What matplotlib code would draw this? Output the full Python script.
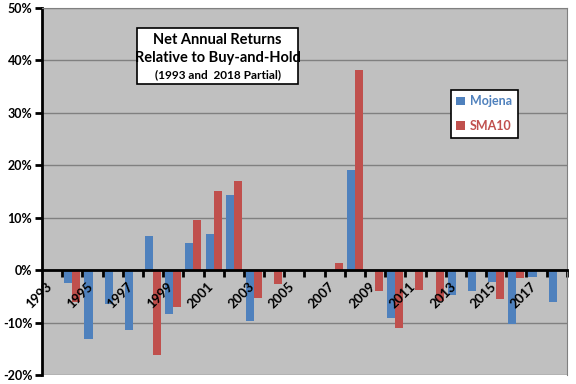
import numpy as np
import matplotlib
matplotlib.use("Agg")
import matplotlib.pyplot as plt
from matplotlib.patches import Rectangle

plt.rcParams['font.family'] = ['Lato', 'DejaVu Sans']

years = list(range(1993, 2019))
# net annual returns relative to buy-and-hold, %
mojena = [0.0, -2.4, -13.2, -6.4, -11.4, 6.5, -8.4, 5.2, 6.9, 14.4, -9.7, 0.0, 0.0,
          0.0, 0.0, 19.0, 0.0, -9.2, 0.0, 0.0, -4.8, -4.0, -2.3, -10.3, -1.3, -6.1]
sma10 = [0.0, -6.1, 0.0, 0.0, 0.0, -16.2, -7.0, 9.6, 15.1, 16.9, -5.3, -2.6, 0.0,
         0.0, 1.3, 38.1, -4.0, -11.1, -3.8, -5.9, 0.0, 0.0, -5.6, -1.5, 0.0, 0.0]
yticks = list(range(-20, 51, 10))

blue = '#4F81BD'
red = '#C0504D'

fig = plt.figure(figsize=(5.76, 3.84), dpi=100)
ax = fig.add_axes([0.073, 0.0234, 0.911, 0.956])
ax.set_facecolor('#C0C0C0')

x = np.arange(len(years))
w = 0.4
ax.bar(x - w / 2, mojena, width=w, color=blue, label='Mojena', zorder=2)
ax.bar(x + w / 2, sma10, width=w, color=red, label='SMA10', zorder=2)

ax.set_xlim(-0.5, len(years) - 0.5)
ax.set_ylim(-20, 50)
ax.set_yticks(yticks)
ax.set_yticklabels([f'{v}%' for v in yticks], fontsize=9, fontweight='bold')
# gridlines behind the bars
for v in yticks:
    ax.axhline(v, color='#808080', linewidth=1, zorder=0.5)

# tick marks between categories, labels every other year drawn over the bars
ax.set_xticks(np.arange(len(years)) + 0.5)
ax.set_xticklabels([])
ax.tick_params(axis='x', length=5, width=2, direction='out')
ax.tick_params(axis='y', length=5, width=2, direction='out', pad=2)
for i in range(0, len(years), 2):
    ax.text(x[i] + 0.12, -1.9, str(years[i]), rotation=45, ha='right', va='top',
            fontsize=9.5, fontweight='bold', zorder=3)

ax.spines['bottom'].set_position(('data', 0))
ax.spines['bottom'].set_linewidth(2)
ax.spines['bottom'].set_zorder(3)
ax.spines['left'].set_linewidth(2)
ax.spines['top'].set_color('#808080')
ax.spines['right'].set_color('#808080')

# title box
ax.add_patch(Rectangle((0.181, 0.793), 0.307, 0.153, transform=ax.transAxes,
                       facecolor='white', edgecolor='black', linewidth=1.2, zorder=5))
cx = 0.3345
ax.text(cx, 0.913, 'Net Annual Returns', transform=ax.transAxes, ha='center',
        va='center', fontsize=10.5, fontweight='bold', zorder=6)
ax.text(cx, 0.864, 'Relative to Buy-and-Hold', transform=ax.transAxes, ha='center',
        va='center', fontsize=10.5, fontweight='bold', zorder=6)
ax.text(cx, 0.817, '(1993 and  2018 Partial)', transform=ax.transAxes, ha='center',
        va='center', fontsize=8.5, fontweight='bold', zorder=6)

leg = ax.legend(loc='upper left', bbox_to_anchor=(0.779, 0.777), fancybox=False,
                edgecolor='black', framealpha=1, handlelength=0.7, handleheight=0.7,
                labelspacing=1.0, handletextpad=0.4, borderpad=0.45,
                borderaxespad=0, prop={'size': 9, 'weight': 'bold'})
leg.get_frame().set_linewidth(1.2)
for txt, c in zip(leg.get_texts(), [blue, red]):
    txt.set_color(c)

fig.savefig('out.png', dpi=100)
